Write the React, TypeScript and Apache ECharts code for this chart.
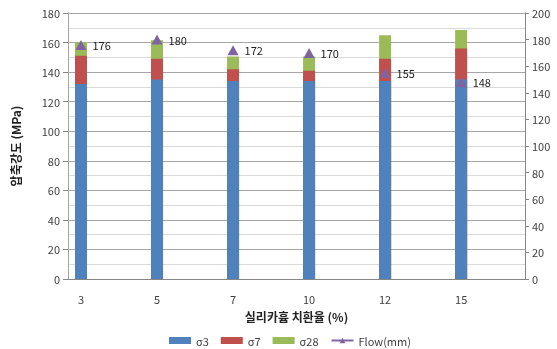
import React, { useEffect, useRef } from "react";
import * as echarts from "echarts";

const categories = ["3", "5", "7", "10", "12", "15"];
const sigma3 = [132, 135, 134, 134, 134, 135];
const sigma7 = [151, 149, 142, 141, 149, 156];
const sigma28 = [160, 161.5, 150.5, 150.5, 165, 168.5];
const flow = [176, 180, 172, 170, 155, 148];
const leftTicks = [0, 180, 20];
const rightTicks = [0, 200, 20];

const FONT = "'Noto Sans CJK KR', 'Noto Sans', sans-serif";
const TXT = "#404040";

export default function App() {
  const ref = useRef<HTMLDivElement>(null);
  useEffect(() => {
    if (!ref.current) return;
    const chart = echarts.init(ref.current, null, { renderer: "svg" });
    const pts = (arr: number[]) => arr.map((v, i) => [i, v]);
    const barBase = {
      type: "bar",
      barWidth: 12,
      barGap: "-100%",
      xAxisIndex: 0,
      yAxisIndex: 0,
    };
    chart.setOption({
      animation: false,
      textStyle: { fontFamily: FONT },
      grid: { left: 68, right: 32, top: 13, bottom: 70 },
      legend: {
        left: 164,
        top: 330,
        itemWidth: 22,
        itemHeight: 7,
        itemGap: 12,
        textStyle: { fontFamily: FONT, fontSize: 11, color: TXT },
        data: [
          { name: "σ3", icon: "rect" },
          { name: "σ7", icon: "rect" },
          { name: "σ28", icon: "rect" },
          {
            name: "Flow(mm)",
            lineStyle: { opacity: 1, width: 2, color: "#8064A2" },
          },
        ],
      },
      xAxis: {
        type: "value",
        min: -0.171,
        max: 5.84,
        splitLine: { show: false },
        axisTick: { show: false },
        axisLine: { show: true, onZero: false, lineStyle: { color: "#868686", width: 1 } },
        axisLabel: {
          customValues: [0, 1, 2, 3, 4, 5],
          formatter: (v: number) => categories[Math.round(v)] ?? "",
          margin: 14,
          fontSize: 11,
          color: TXT,
          fontFamily: FONT,
        },
        name: "실리카흄 치환율 (%)",
        nameLocation: "middle",
        nameGap: 31,
        nameTextStyle: { fontSize: 12, fontWeight: "bold", color: "#222", fontFamily: FONT },
      },
      yAxis: [
        {
          type: "value",
          min: leftTicks[0],
          max: leftTicks[1],
          interval: leftTicks[2],
          name: "압축강도 (MPa)",
          nameLocation: "middle",
          nameRotate: 90,
          nameGap: 47,
          nameTextStyle: { fontSize: 12, fontWeight: "bold", color: "#222", fontFamily: FONT },
          axisLine: { show: true, onZero: false, lineStyle: { color: "#a6a6a6" } },
          axisTick: { show: true, length: 5, lineStyle: { color: "#868686" } },
          axisLabel: { fontSize: 11, color: TXT, margin: 8, fontFamily: FONT },
          splitLine: { show: true, lineStyle: { color: "#a6a6a6", width: 1 } },
          minorTick: { show: false, splitNumber: 2 },
          minorSplitLine: { show: true, lineStyle: { color: "#d9d9d9", width: 1 } },
        },
        {
          type: "value",
          min: rightTicks[0],
          max: rightTicks[1],
          interval: rightTicks[2],
          position: "right",
          axisLine: { show: true, onZero: false, lineStyle: { color: "#868686" } },
          axisTick: { show: true, length: 4, lineStyle: { color: "#868686" } },
          axisLabel: { fontSize: 11, color: TXT, margin: 7, fontFamily: FONT },
          splitLine: { show: false },
        },
      ],
      series: [
        { ...barBase, name: "σ3", data: pts(sigma3), z: 4, itemStyle: { color: "#4F81BD" } },
        { ...barBase, name: "σ7", data: pts(sigma7), z: 3, itemStyle: { color: "#C0504D" } },
        { ...barBase, name: "σ28", data: pts(sigma28), z: 2, itemStyle: { color: "#9BBB59" } },
        {
          type: "line",
          name: "Flow(mm)",
          xAxisIndex: 0,
          yAxisIndex: 1,
          data: pts(flow),
          symbol: "triangle",
          symbolSize: [11, 10],
          z: 5,
          lineStyle: { opacity: 0, color: "#8064A2" },
          itemStyle: { color: "#8064A2" },
          label: {
            show: true,
            position: "right",
            distance: 6,
            formatter: (p: any) => String(p.value[1]),
            fontSize: 11,
            color: "#222",
            fontFamily: FONT,
          },
        },
      ],
    });
    return () => chart.dispose();
  }, []);
  return <div ref={ref} style={{ width: 557, height: 349, position: "fixed", left: 0, top: 0 }} />;
}
